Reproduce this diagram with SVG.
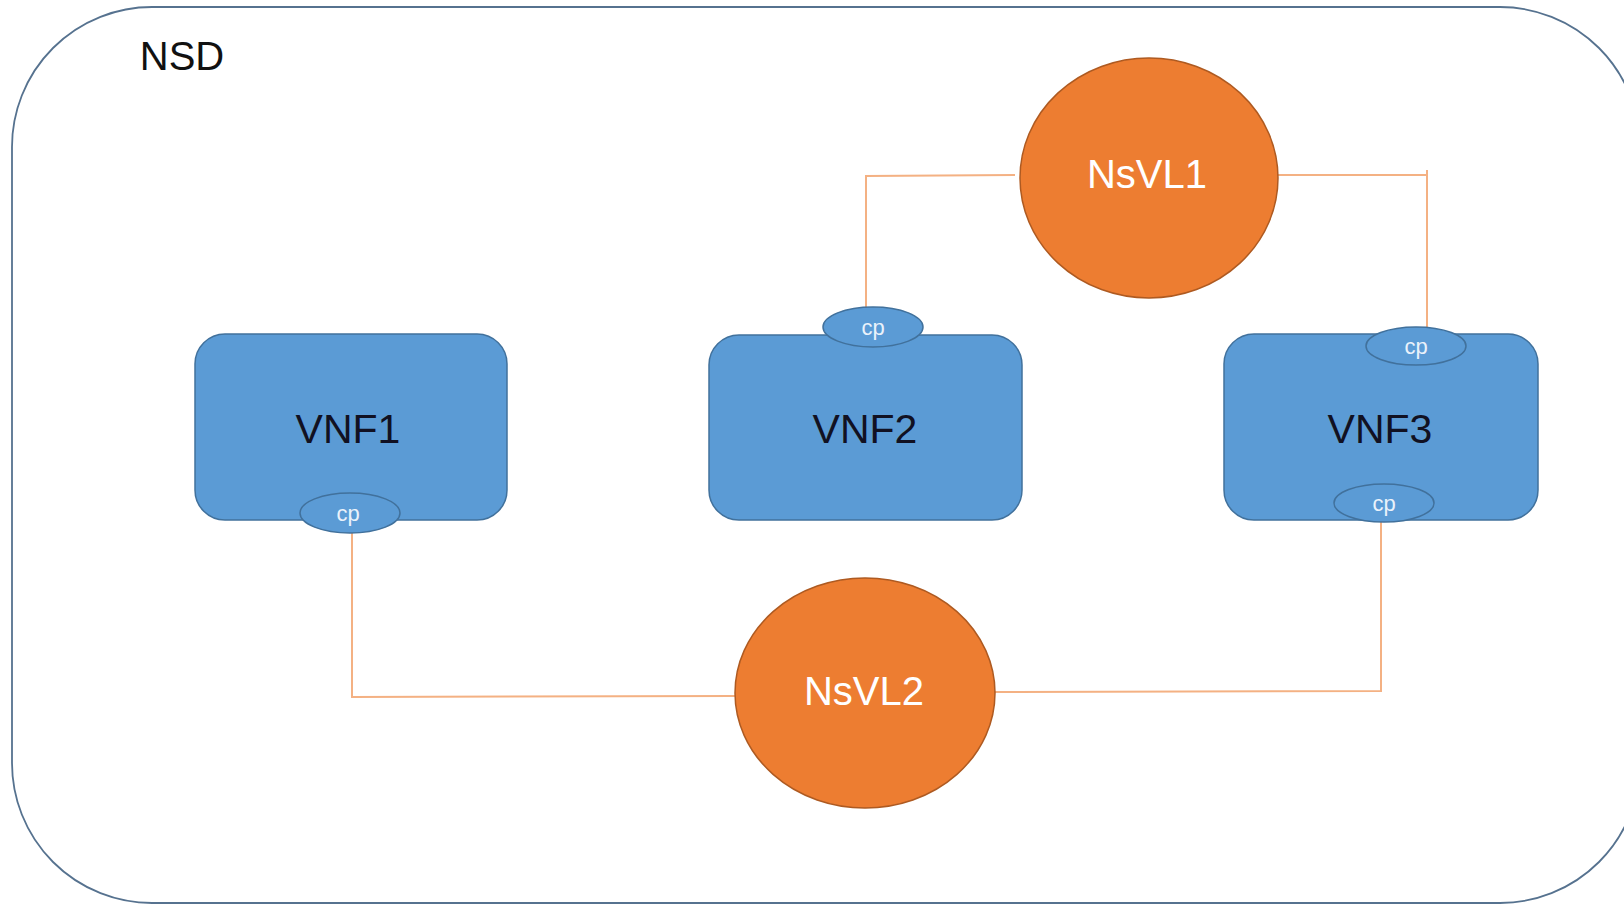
<svg xmlns="http://www.w3.org/2000/svg" width="1624" height="906" viewBox="0 0 1624 906">
<style>
.vnf{fill:#5B9BD5;stroke:#41719C;stroke-width:1.5}
.cp{fill:#5B9BD5;stroke:#41719C;stroke-width:1.5}
.vl{fill:#ED7D31;stroke:#AE5A21;stroke-width:1.5}
.lbl{font-family:"Liberation Sans",Arial,sans-serif;text-anchor:middle}
.dark{fill:#111122;font-size:41px}
.white{fill:#FFFFFF;font-size:40px}
.cpt{fill:#EAF2FB;font-size:22px}
.conn{fill:none;stroke:#F4B183;stroke-width:2}
</style>
<rect width="1624" height="906" fill="#FFFFFF"/>
<g id="nsd">
<rect x="12" y="7" width="1628" height="896" rx="140" ry="140" fill="#FFFFFF" stroke="#56728F" stroke-width="1.8"/>
<text x="182" y="70" class="lbl" style="font-size:40px;fill:#111111">NSD</text>
</g>
<g id="connectors">
<polyline class="conn" points="1015,175 866,176 866,308"/>
<polyline class="conn" points="1277,175 1427,175 1427,329"/>
<line class="conn" x1="1427" y1="170" x2="1427" y2="176"/>
<polyline class="conn" points="735,696 352,697 352,533"/>
<polyline class="conn" points="994,692 1381,691 1381,522"/>
</g>
<g id="vnf1">
<rect class="vnf" x="195" y="334" width="312" height="186" rx="30"/>
<text class="lbl dark" x="348" y="443">VNF1</text>
<g id="vnf1-cp">
<ellipse class="cp" cx="350" cy="513" rx="50" ry="20"/>
<text class="lbl cpt" x="348" y="521">cp</text>
</g>
</g>
<g id="vnf2">
<rect class="vnf" x="709" y="335" width="313" height="185" rx="30"/>
<text class="lbl dark" x="865" y="443">VNF2</text>
<g id="vnf2-cp">
<ellipse class="cp" cx="873" cy="327" rx="50" ry="20"/>
<text class="lbl cpt" x="873" y="335">cp</text>
</g>
</g>
<g id="vnf3">
<rect class="vnf" x="1224" y="334" width="314" height="186" rx="30"/>
<text class="lbl dark" x="1380" y="443">VNF3</text>
<g id="vnf3-cp-top">
<ellipse class="cp" cx="1416" cy="346" rx="50" ry="19"/>
<text class="lbl cpt" x="1416" y="354">cp</text>
</g>
<g id="vnf3-cp-bottom">
<ellipse class="cp" cx="1384" cy="503" rx="50" ry="19"/>
<text class="lbl cpt" x="1384" y="511">cp</text>
</g>
</g>
<g id="nsvl1">
<ellipse class="vl" cx="1149" cy="178" rx="129" ry="120"/>
<text class="lbl white" x="1147" y="188">NsVL1</text>
</g>
<g id="nsvl2">
<ellipse class="vl" cx="865" cy="693" rx="130" ry="115"/>
<text class="lbl white" x="864" y="705">NsVL2</text>
</g>
</svg>
